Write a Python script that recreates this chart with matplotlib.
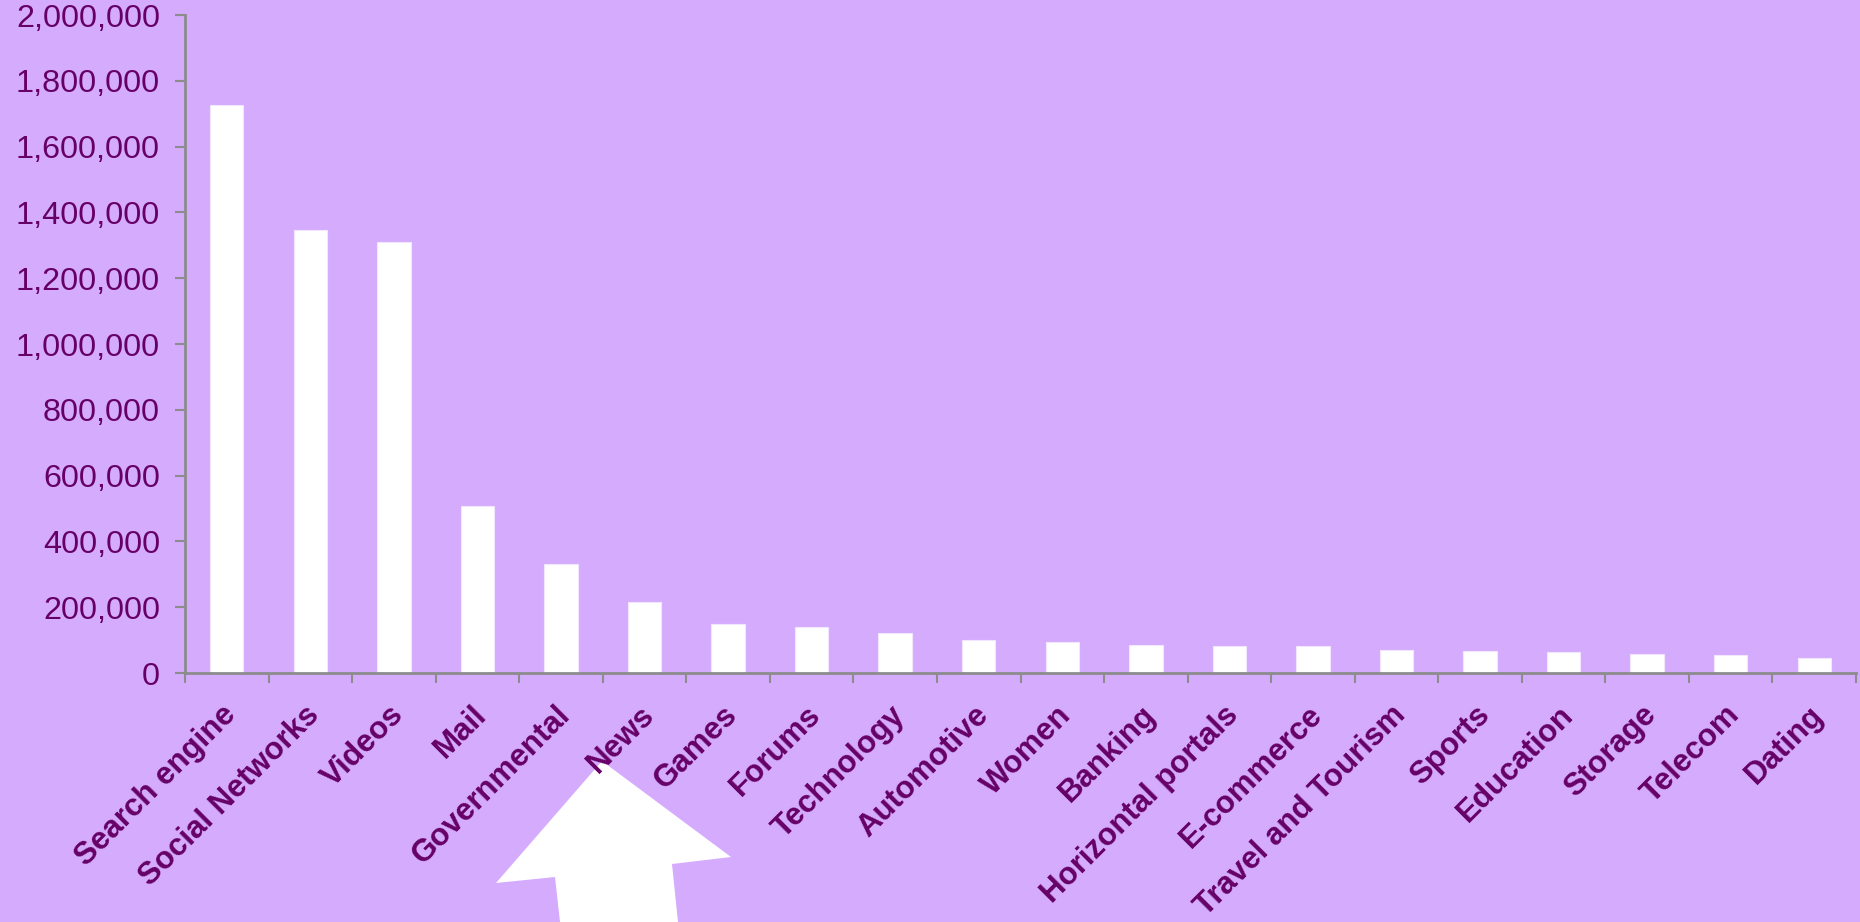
import numpy as np
import matplotlib
matplotlib.use("Agg")
import matplotlib.pyplot as plt
from matplotlib.patches import Polygon
from matplotlib.ticker import FuncFormatter, FixedLocator
from matplotlib.transforms import ScaledTranslation

categories = ["Search engine", "Social Networks", "Videos", "Mail", "Governmental",
              "News", "Games", "Forums", "Technology", "Automotive", "Women",
              "Banking", "Horizontal portals", "E-commerce", "Travel and Tourism",
              "Sports", "Education", "Storage", "Telecom", "Dating"]
visits = [1727000, 1346000, 1309000, 509000, 330000,
          216000, 148000, 141000, 121000, 99000, 93000,
          84000, 83000, 83000, 71000,
          68000, 65000, 59000, 55000, 47000]
y_ticks = list(range(0, 2000001, 200000))

bg = "#D5ABFE"
txt = "#660066"
axis_col = "#8C8C8C"

plt.rcParams["font.family"] = ["Liberation Sans", "DejaVu Sans"]

fig = plt.figure(figsize=(18.6, 9.22), dpi=100, facecolor=bg)
ax = fig.add_axes([185 / 1860, 249 / 922, 1671 / 1860, 658 / 922])
ax.set_facecolor(bg)

x = np.arange(len(categories))
ax.bar(x, visits, width=0.4, color="white", edgecolor="#F2E6FF", linewidth=0.8, zorder=2)

ax.set_xlim(-0.5, len(categories) - 0.5)
ax.set_ylim(0, 2000000)
ax.set_yticks(y_ticks)
ax.yaxis.set_major_formatter(FuncFormatter(lambda v, p: f"{int(v):,}"))
ax.tick_params(axis="y", direction="out", length=7, width=1.5, color=axis_col,
               labelsize=23.3, labelcolor=txt, pad=11)

ax.set_xticks(x)
ax.set_xticklabels(categories, rotation=45, ha="right", va="center",
                   rotation_mode="anchor", fontsize=22.5, fontweight="bold", color=txt)
ax.xaxis.set_minor_locator(FixedLocator(np.arange(-0.5, len(categories), 1.0)))
ax.tick_params(axis="x", which="major", length=0, pad=27)
ax.tick_params(axis="x", which="minor", direction="out", length=7, width=1.5, color=axis_col)
shift = ScaledTranslation(5 / 100, 0, fig.dpi_scale_trans)
for lbl in ax.get_xticklabels():
    lbl.set_transform(lbl.get_transform() + shift)

for s in ["top", "right"]:
    ax.spines[s].set_visible(False)
for s in ["left", "bottom"]:
    ax.spines[s].set_color(axis_col)
    ax.spines[s].set_linewidth(2)

# big white arrow pointing at "News" (figure pixel coords, origin top-left)
W, H = 1860, 922
arrow_px = [(602, 761), (731, 857), (672, 864), (678, 922), (560, 922),
            (555, 877), (496, 883)]
arrow = Polygon([(px / W, 1 - py / H) for px, py in arrow_px], closed=True,
                transform=fig.transFigure, facecolor="white", edgecolor="none",
                zorder=-1)
fig.patches.append(arrow)

fig.savefig("out.png", dpi=100, facecolor=bg)
